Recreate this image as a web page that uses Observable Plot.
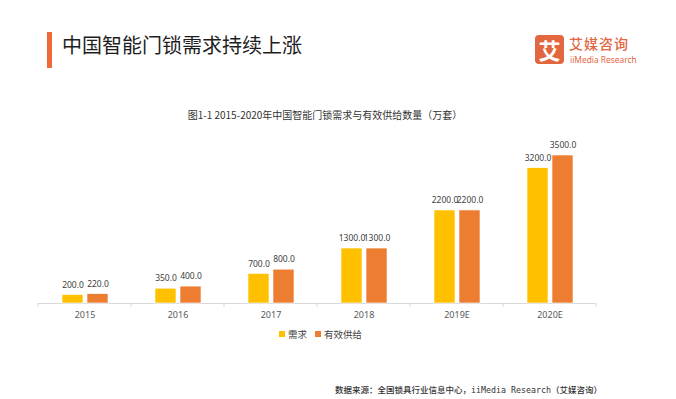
<!DOCTYPE html>
<html>
<head>
<meta charset="utf-8">
<script src="https://cdn.jsdelivr.net/npm/d3@7"></script>
<script src="https://cdn.jsdelivr.net/npm/@observablehq/plot@0.6"></script>
<style>
  html, body { margin: 0; padding: 0; background: #fff; }
  #wrap { position: relative; width: 676px; height: 399px; overflow: hidden; font-family: "Noto Sans CJK SC", "Noto Sans", sans-serif; }
  #chart { position: absolute; left: 0; top: 0; }
  .abs { position: absolute; white-space: nowrap; }
  #accent { left: 47px; top: 32px; width: 5px; height: 36px; background: #F06A35; }
  #title { left: 62px; top: 31px; font-size: 20px; line-height: 28px; color: #1e1e1e; }
  #logoBox { left: 535px; top: 35px; width: 29px; height: 29px; border-radius: 4px; background: #E2673F; color: #fff; font-size: 22px; font-weight: 700; line-height: 29px; text-align: center; }
  #logoCn { left: 569px; top: 36px; font-size: 14px; line-height: 15px; color: #E2673F; font-weight: 500; letter-spacing: 1px; }
  #logoEn { left: 570px; top: 54px; font-size: 8.4px; line-height: 11px; color: #E2673F; font-family: "Noto Sans", sans-serif; }
  #subtitle { left: 0; width: 650px; top: 108px; text-align: center; font-size: 10px; line-height: 14px; color: #333; }
  #legend { left: 279px; top: 327px; font-size: 9.5px; line-height: 14px; color: #404040; display: flex; align-items: center; }
  #legend .sw { display: inline-block; width: 6px; height: 6px; margin-right: 3px; }
  #legend .item { display: flex; align-items: center; margin-right: 8px; }
  #source { left: 335px; top: 383px; font-size: 8.5px; line-height: 13px; color: #333; font-weight: 500; }
  #source .mono { font-family: "DejaVu Sans Mono", monospace; font-size: 8.3px; }
</style>
</head>
<body>
<div id="wrap">
  <div id="chart"></div>
  <div class="abs" id="accent"></div>
  <div class="abs" id="title"></div>
  <div class="abs" id="logoBox">艾</div>
  <div class="abs" id="logoCn">艾媒咨询</div>
  <div class="abs" id="logoEn">iiMedia Research</div>
  <div class="abs" id="subtitle"></div>
  <div class="abs" id="legend"></div>
  <div class="abs" id="source">数据来源：全国锁具行业信息中心，<span class="mono">iiMedia Research</span>（艾媒咨询）</div>
</div>
<script>
const titleText = "中国智能门锁需求持续上涨";
const subtitleText = "图1-1 2015-2020年中国智能门锁需求与有效供给数量（万套）";
const categories = ["2015", "2016", "2017", "2018", "2019E", "2020E"];
const seriesNames = ["需求", "有效供给"];
const demand = [200, 350, 700, 1300, 2200, 3200];
const supply = [220, 400, 800, 1300, 2200, 3500];
const seriesColors = ["#FFC000", "#ED7D31"];

document.getElementById("title").textContent = titleText;
document.getElementById("subtitle").textContent = subtitleText;

const legend = document.getElementById("legend");
seriesNames.forEach((s, i) => {
  const item = document.createElement("span");
  item.className = "item";
  const sw = document.createElement("span");
  sw.className = "sw";
  sw.style.background = seriesColors[i];
  item.appendChild(sw);
  item.appendChild(document.createTextNode(s));
  legend.appendChild(item);
});

const data = categories.flatMap((c, i) => [
  {cat: c, series: seriesNames[0], value: demand[i]},
  {cat: c, series: seriesNames[1], value: supply[i]}
]);

const chart = Plot.plot({
  width: 676,
  height: 399,
  marginLeft: 36,
  marginRight: 78,
  marginTop: 155,
  marginBottom: 96,
  style: {fontFamily: "'Noto Sans', 'Noto Sans CJK SC', sans-serif", fontSize: "9px", color: "#595959", background: "transparent", overflow: "visible"},
  fx: {domain: categories, padding: 0, label: null, axis: "bottom", tickSize: 0, tickPadding: 8},
  x: {domain: seriesNames, paddingInner: 0.16, paddingOuter: 0.9, axis: null},
  y: {domain: [0, 3500], axis: null},
  color: {domain: seriesNames, range: seriesColors},
  marks: [
    Plot.ruleY([0], {stroke: "#d9d9d9", strokeWidth: 1}),
    Plot.barY(data, {fx: "cat", x: "series", y: "value", fill: "series", stroke: "#fff", strokeWidth: 0.6}),
    Plot.text(data, {fx: "cat", x: "series", y: "value", text: d => d.value.toFixed(1), dy: -10, fill: "#404040", fontSize: 8.5})
  ]
});
document.getElementById("chart").appendChild(chart);

// boundary ticks between categories, from the fx scale
const fxs = chart.scale("fx");
const svg = d3.select(chart.tagName.toLowerCase() === "svg" ? chart : chart.querySelector("svg"));
const yScale = chart.scale("y");
const y0 = yScale.apply ? yScale.apply(0) : 303;
const step = fxs.step || fxs.bandwidth;
const lefts = categories.map(c => fxs.apply ? fxs.apply(c) : 0);
const bounds = lefts.concat([lefts[lefts.length - 1] + step]);
svg.append("g").selectAll("line").data(bounds).join("line")
  .attr("x1", d => d).attr("x2", d => d)
  .attr("y1", y0).attr("y2", y0 + 4)
  .attr("stroke", "#d9d9d9");
</script>
</body>
</html>
